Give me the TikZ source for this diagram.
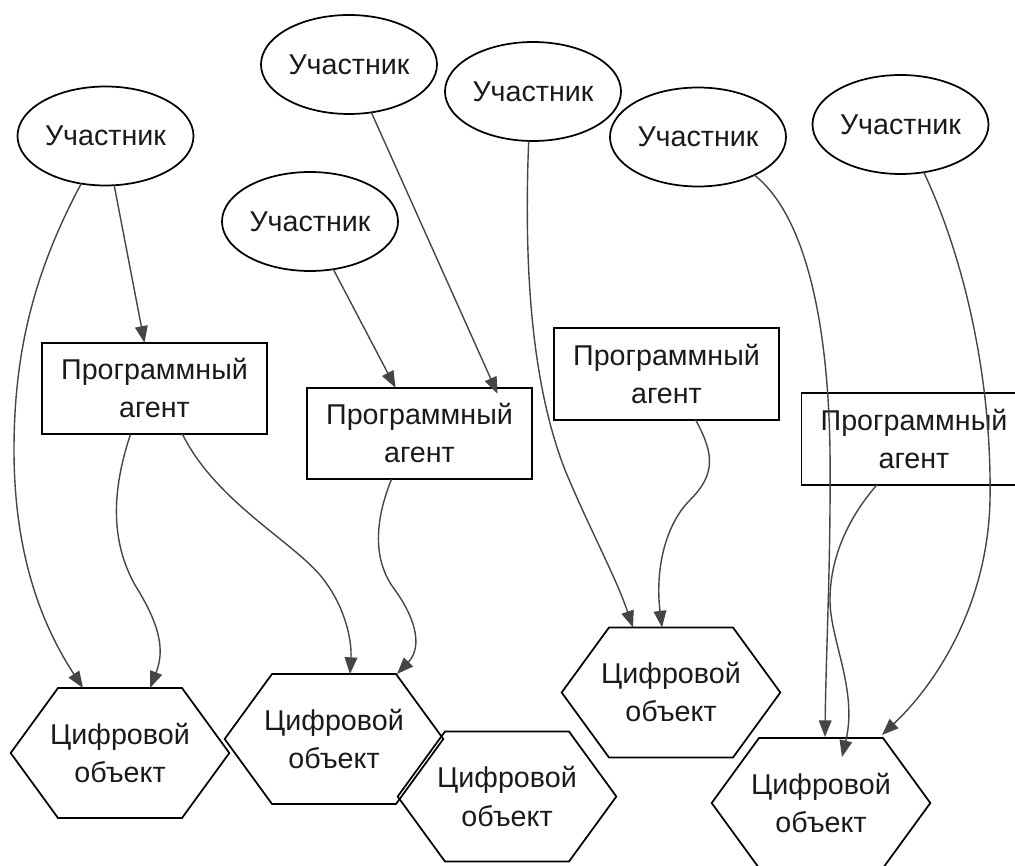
\documentclass[tikz,border=0pt]{standalone}
\usepackage{fontspec}
\setmainfont{Liberation Sans}
\usetikzlibrary{shapes.geometric,arrows.meta,calc}
\definecolor{linegray}{HTML}{454545}
\definecolor{inkc}{HTML}{1A1A1A}
\tikzset{
  lbl/.style={font=\fontsize{21.5pt}{28.5pt}\selectfont, text=inkc, align=center, inner sep=0pt, outer sep=0pt},
  part/.style={lbl, ellipse, draw=black, line width=1.3pt, minimum width=132pt, minimum height=74.25pt},
  agent/.style={lbl, rectangle, draw=black, line width=1.3pt, minimum width=168.75pt, minimum height=68.6pt},
  dobj/.style={lbl, rectangle, draw=none, minimum width=164pt, minimum height=97.5pt},
  hexline/.style={draw=black, line width=1.3pt, line join=miter},
  link/.style={draw=linegray, line width=1.05pt, -{Triangle[length=12.5pt,width=9.5pt]}},
}
\newcommand\hexo[1]{%
  \draw[hexline] (#1.west) -- ($(#1.north)+(-62,0)$) -- ($(#1.north)+(62,0)$) -- (#1.east)
    -- ($(#1.south)+(62,0)$) -- ($(#1.south)+(-62,0)$) -- cycle;}
\begin{document}
\begin{tikzpicture}[x=0.75pt,y=-0.75pt]
\useasboundingbox (0,0) rectangle (1015,866);
% participants
\node[part] (e1) at (105.5,136) {Участник};
\node[part] (e2) at (349,64.5) {Участник};
\node[part] (e3) at (533,91.5) {Участник};
\node[part] (e4) at (310,221.5) {Участник};
\node[part] (e5) at (698,137) {Участник};
\node[part] (e6) at (900.5,124.5) {Участник};
% agents
\node[agent] (r1) at (154.5,388.5) {Программный\\агент};
\node[agent] (r2) at (419.5,433.5) {Программный\\агент};
\node[agent] (r3) at (666.5,374) {Программный\\агент};
\node[agent] (r4) at (914,439) {Программный\\агент};
% digital objects
\node[dobj] (h1) at (120,753) {Цифровой\\объект};
\node[dobj] (h2) at (334,739) {Цифровой\\объект};
\node[dobj] (h3) at (507,796.5) {Цифровой\\объект};
\node[dobj] (h4) at (671,692.5) {Цифровой\\объект};
\node[dobj] (h5) at (821,803) {Цифровой\\объект};
\hexo{h1}\hexo{h2}\hexo{h3}\hexo{h4}\hexo{h5}
% connectors
\draw[link] (e1.280) -- ($(r1.north)+(-10,0)$);
\draw[link] (e1.243) .. controls (35,270) and (14,350) .. (14,450)
   .. controls (14,560) and (45,630) .. ($(h1.north)+(-37,0)$);
\draw[link] ($(r1.south)+(-24,0)$) .. controls (112,490) and (110,540) .. (135,585)
   .. controls (160,625) and (165,650) .. ($(h1.north)+(30,0)$);
\draw[link] ($(r1.south)+(28,0)$) .. controls (215,500) and (290,540) .. (320,575)
   .. controls (345,605) and (352,640) .. ($(h2.north)+(16,0)$);
\draw[link] (e4.296) -- ($(r2.north)+(-24,0)$);
\draw[link] (e2.295) -- ($(r2.north)+(78,6)$);
\draw[link] ($(r2.south)+(-28,0)$) .. controls (375,520) and (372,560) .. (395,590)
   .. controls (420,625) and (420,650) .. ($(h2.north)+(63,0)$);
\draw[link] (e3.265) .. controls (524,260) and (530,380) .. (565,470)
   .. controls (590,530) and (615,575) .. ($(h4.north)+(-38,0)$);
\draw[link] ($(r3.south)+(29,0)$) .. controls (715,455) and (715,475) .. (690,500)
   .. controls (665,525) and (655,570) .. ($(h4.north)+(-9,0)$);
\draw[link] (e5.326) .. controls (805,215) and (828,320) .. (830,450)
   .. controls (831,560) and (826,650) .. ($(h5.north)+(4,-1)$);
\draw[link] (e6.296) .. controls (965,260) and (992,380) .. (990,500)
   .. controls (988,600) and (940,680) .. ($(h5.north)+(61,-3)$);
\draw[link] ($(r4.south)+(-37,0)$) .. controls (855,510) and (830,550) .. (830,600)
   .. controls (830,640) and (858,690) .. ($(h5.north)+(21,19)$);
\end{tikzpicture}
\end{document}
